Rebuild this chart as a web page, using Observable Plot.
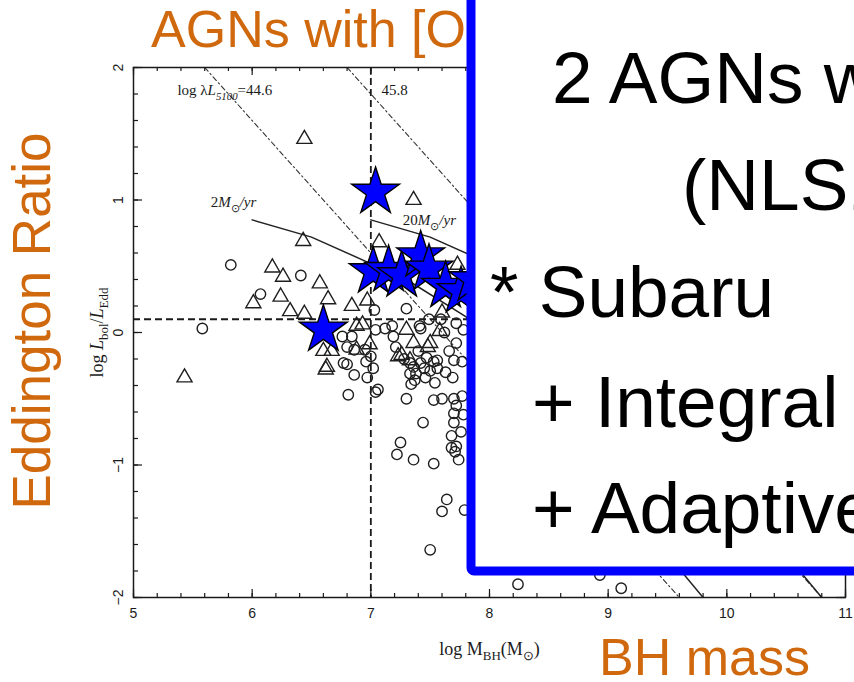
<!DOCTYPE html>
<html>
<head>
<meta charset="utf-8">
<script src="https://cdn.jsdelivr.net/npm/d3@7"></script>
<script src="https://cdn.jsdelivr.net/npm/@observablehq/plot@0.6"></script>
<style>
  html, body { margin: 0; padding: 0; background: #fff; overflow: hidden; }
  #chart { position: relative; width: 854px; height: 682px; overflow: hidden; }
  #chart svg { display: block; overflow: hidden; }
</style>
</head>
<body>
<div id="chart"></div>
<script>
// log M_BH, log L_bol/L_Edd
const circleSample = [
  [5.58,0.03],[5.82,0.51],[6.07,0.29],[6.41,0.43],
  [6.76,-0.03],[6.84,-0.03],[6.80,-0.11],[6.86,-0.13],[6.77,-0.23],[6.80,-0.24],[6.96,-0.22],[6.86,-0.32],[6.97,-0.34],[6.81,-0.47],[6.95,-0.13],
  [7.00,-0.18],[7.02,-0.27],[7.04,-0.45],[7.06,-0.43],[7.04,0.02],[7.03,0.17],
  [7.12,0.03],[7.18,0.05],[7.19,-0.03],[7.21,-0.11],[7.30,0.18],[7.41,0.05],[7.42,0.03],[7.49,0.10],[7.59,0.10],[7.72,0.07],[7.78,0.02],[7.62,0.00],[7.72,-0.08],[7.66,-0.14],
  [7.28,-0.20],[7.33,-0.23],[7.36,-0.26],[7.40,-0.14],[7.42,-0.23],[7.45,-0.27],[7.47,-0.19],[7.50,-0.29],[7.53,-0.22],[7.56,-0.21],[7.56,-0.27],[7.63,-0.30],[7.70,-0.21],[7.77,-0.22],
  [7.33,-0.31],[7.34,-0.39],[7.37,-0.36],[7.38,-0.31],[7.46,-0.34],[7.54,-0.38],[7.69,-0.34],
  [7.30,-0.50],[7.53,-0.51],[7.60,-0.50],[7.70,-0.50],[7.72,-0.55],[7.77,-0.48],[7.78,-0.62],[7.70,-0.61],
  [7.44,-0.68],[7.70,-0.68],[7.68,-0.78],[7.76,-0.75],
  [7.25,-0.83],[7.22,-0.92],[7.36,-0.96],[7.53,-0.99],[7.68,-0.87],[7.72,-0.86],[7.71,-0.90],[7.74,-0.96],
  [7.64,-1.26],[7.60,-1.35],[7.79,-1.34],[7.50,-1.64],
  [8.24,-1.90],[8.93,-1.83],[9.11,-1.93]
];
const triangleSample = [
  [5.43,-0.34],[6.01,0.22],[6.17,0.49],[6.24,0.27],[6.26,0.42],[6.32,0.16],[6.43,0.69],[6.44,1.46],[6.44,0.14],
  [6.57,0.37],[6.64,0.25],[6.84,0.20],[6.97,0.24],[6.88,0.05],[6.93,0.06],
  [6.60,-0.14],[6.67,-0.14],[6.63,-0.26],[6.62,-0.28],[6.88,-0.13],[6.99,-0.09],
  [7.07,0.68],[7.36,1.00],[7.73,0.51],[7.60,0.15],[7.58,0.01],
  [7.30,0.02],[7.36,-0.08],[7.48,-0.11],[7.50,-0.08],[7.23,-0.18],[7.26,-0.17],[7.33,-0.21]
];
const starSample = [
  [7.04,1.06],[6.60,0.02],[7.02,0.46],[7.15,0.47],[7.26,0.43],[7.42,0.58],[7.49,0.48],[7.63,0.35],[7.76,0.31],[7.86,0.40]
];

// constant-luminosity tracks (log λL5100 = 44.6 and 45.8)
const lum446 = [[5.6,2.0],[9.6,-2.0]];
const lum458 = [[6.8,2.0],[10.8,-2.0]];
// accretion-rate tracks
const rate2 = [[6.0,0.85],[6.5,0.72],[7.0,0.52],[7.3,0.40],[7.8,0.12],[8.5,-0.60],[9.8,-2.0]];
const rate20 = [[7.0,0.85],[7.5,0.72],[8.0,0.52],[8.3,0.40],[8.8,0.12],[9.5,-0.60],[10.8,-2.0]];

// division lines
const massCut = [7];
const ratioCut = [0.1];

// curve annotations: [logM, logEdd, key]
const curveLabels = [
  [5.37, 1.83, "lum446"],
  [7.09, 1.83, "lum458"],
  [5.65, 0.985, "rate2"],
  [7.27, 0.85, "rate20"]
];

const xMajor = [5, 6, 7, 8, 9, 10, 11];
const yMajor = [-2, -1, 0, 1, 2];
const xMinor = d3.range(5, 11.001, 0.2);
const yMinor = d3.range(-2, 2.001, 0.2);

const W = 854, H = 682;
const mL = 133, mR = 9, mT = 67, mB = 85;
const innerW = W - mL - mR, innerH = H - mT - mB;
const serif = "'Liberation Serif', 'Times New Roman', serif";
const sans = "'Liberation Sans', Arial, Helvetica, sans-serif";
const ink = "#1a1a1a";

const rich = {
  lum446: [{t: "log λ"}, {t: "L", it: true}, {t: "5100", it: true, sub: true}, {t: "=44.6"}],
  lum458: [{t: "45.8"}],
  rate2: [{t: "2"}, {t: "M", it: true}, {t: "⊙", sub: true}, {t: "/yr", it: true}],
  rate20: [{t: "20"}, {t: "M", it: true}, {t: "⊙", sub: true}, {t: "/yr", it: true}],
  ytitle: [{t: "log "}, {t: "L", it: true}, {t: "bol", sub: true}, {t: "/"}, {t: "L", it: true}, {t: "Edd", sub: true}],
  xtitle: [{t: "log M"}, {t: "BH", sub: true}, {t: "(M"}, {t: "⊙", sub: true}, {t: ")"}]
};

const chart = Plot.plot({
  width: W, height: H,
  marginLeft: mL, marginRight: mR, marginTop: mT, marginBottom: mB,
  x: {domain: [5, 11], axis: null},
  y: {domain: [-2, 2], axis: null},
  style: {background: "white", fontFamily: sans, color: ink},
  marks: [
    // luminosity tracks
    Plot.line(lum446, {x: d => d[0], y: d => d[1], stroke: "#333", strokeWidth: 1.1, strokeDasharray: "5,3,1.5,3", clip: true}),
    Plot.line(lum458, {x: d => d[0], y: d => d[1], stroke: "#333", strokeWidth: 1.1, strokeDasharray: "5,3,1.5,3", clip: true}),
    // accretion-rate tracks
    Plot.line(rate2, {x: d => d[0], y: d => d[1], stroke: "#222", strokeWidth: 1.5, clip: true}),
    Plot.line(rate20, {x: d => d[0], y: d => d[1], stroke: "#222", strokeWidth: 1.5, clip: true}),
    // division lines
    Plot.ruleX(massCut, {x: d => d, stroke: ink, strokeWidth: 1.8, strokeDasharray: "7,4"}),
    Plot.ruleY(ratioCut, {y: d => d, stroke: ink, strokeWidth: 1.8, strokeDasharray: "7,4"}),
    // samples
    Plot.dot(circleSample, {x: d => d[0], y: d => d[1], r: 5.2, stroke: "#1e1e1e", strokeWidth: 1.4, fill: "none"}),
    Plot.dot(triangleSample, {x: d => d[0], y: d => d[1], symbol: "triangle", r: 5.6, stroke: "#1e1e1e", strokeWidth: 1.4, fill: "none"}),
    Plot.dot(starSample, {x: d => d[0], y: d => d[1], symbol: "star", r: 15, fill: "#0000ff", stroke: "#000", strokeWidth: 1.4}),
    // curve labels
    Plot.text(curveLabels, {x: d => d[0], y: d => d[1], text: d => d[2], textAnchor: "start", lineAnchor: "middle", fontFamily: serif, fontSize: 15, fill: ink}),
    // frame and inward ticks
    Plot.frame({stroke: ink, strokeWidth: 1.5}),
    Plot.tickX(xMinor, {x: d => d, insetTop: innerH - 4, stroke: ink, strokeWidth: 1.2}),
    Plot.tickX(xMajor, {x: d => d, insetTop: innerH - 8, stroke: ink, strokeWidth: 1.2}),
    Plot.tickX(xMinor, {x: d => d, insetBottom: innerH - 4, stroke: ink, strokeWidth: 1.2}),
    Plot.tickX(xMajor, {x: d => d, insetBottom: innerH - 8, stroke: ink, strokeWidth: 1.2}),
    Plot.tickY(yMinor, {y: d => d, insetRight: innerW - 5, stroke: ink, strokeWidth: 1.2}),
    Plot.tickY(yMajor, {y: d => d, insetRight: innerW - 9, stroke: ink, strokeWidth: 1.2}),
    Plot.tickY(yMinor, {y: d => d, insetLeft: innerW - 5, stroke: ink, strokeWidth: 1.2}),
    Plot.tickY(yMajor, {y: d => d, insetLeft: innerW - 9, stroke: ink, strokeWidth: 1.2}),
    // tick labels
    Plot.text(xMajor, {x: d => d, frameAnchor: "bottom", dy: 16, text: d => String(d), fontSize: 14, lineAnchor: "middle", fill: ink}),
    Plot.text(yMajor, {y: d => d, frameAnchor: "left", dx: -15, rotate: -90, text: d => (d < 0 ? "\u2212" + (-d) : String(d)), fontSize: 14, textAnchor: "middle", lineAnchor: "middle", fill: ink}),
    // axis titles
    Plot.text(["xtitle"], {frameAnchor: "bottom", dy: 52, text: d => d, fontFamily: serif, fontSize: 18, lineAnchor: "middle", fill: ink}),
    Plot.text(["ytitle"], {frameAnchor: "left", dx: -36, rotate: -90, text: d => d, fontFamily: serif, fontSize: 18, textAnchor: "middle", lineAnchor: "middle", fill: ink})
  ]
});

document.getElementById("chart").appendChild(chart);
const svg = d3.select(chart);
const NS = "http://www.w3.org/2000/svg";

// turn keyed labels into styled text with italics and subscripts
svg.selectAll("text").each(function () {
  const parts = rich[this.textContent];
  if (!parts) return;
  this.textContent = "";
  let shift = 0;
  parts.forEach((p, i) => {
    const ts = document.createElementNS(NS, "tspan");
    const target = p.sub ? 5 : 0;
    if (i > 0 && target !== shift) ts.setAttribute("dy", target - shift);
    shift = target;
    if (p.sub) ts.setAttribute("font-size", "0.72em");
    if (p.it) ts.setAttribute("font-style", "italic");
    ts.textContent = p.t;
    this.appendChild(ts);
  });
});

// slide annotations drawn over the chart
const orange = "#d0690e";
const over = svg.append("g").attr("font-family", sans).attr("text-anchor", "start");

over.append("text")
  .attr("x", 151).attr("y", 47)
  .attr("font-size", 52).attr("fill", orange)
  .text("AGNs with [OIII] outflows");

over.append("rect")
  .attr("x", 471).attr("y", -30)
  .attr("width", 520).attr("height", 601)
  .attr("rx", 3)
  .attr("fill", "white")
  .attr("stroke", "#0000ff").attr("stroke-width", 9);

const boxLines = [
  {t: "2 AGNs with", x: 552, y: 103},
  {t: "(NLS1s)", x: 682, y: 210},
  {t: "* Subaru", x: 490, y: 317},
  {t: "+ Integral Field", x: 532, y: 427},
  {t: "+ Adaptive Optics", x: 532, y: 533}
];
over.selectAll("text.box").data(boxLines).join("text")
  .attr("class", "box")
  .attr("x", d => d.x).attr("y", d => d.y)
  .attr("font-size", 73).attr("fill", "#000")
  .text(d => d.t);

over.append("text")
  .attr("transform", "translate(50,321) rotate(-90)")
  .attr("text-anchor", "middle")
  .attr("font-size", 53).attr("fill", orange)
  .text("Eddington Ratio");

over.append("text")
  .attr("x", 599).attr("y", 675)
  .attr("font-size", 52).attr("fill", orange)
  .text("BH mass");
</script>
</body>
</html>
